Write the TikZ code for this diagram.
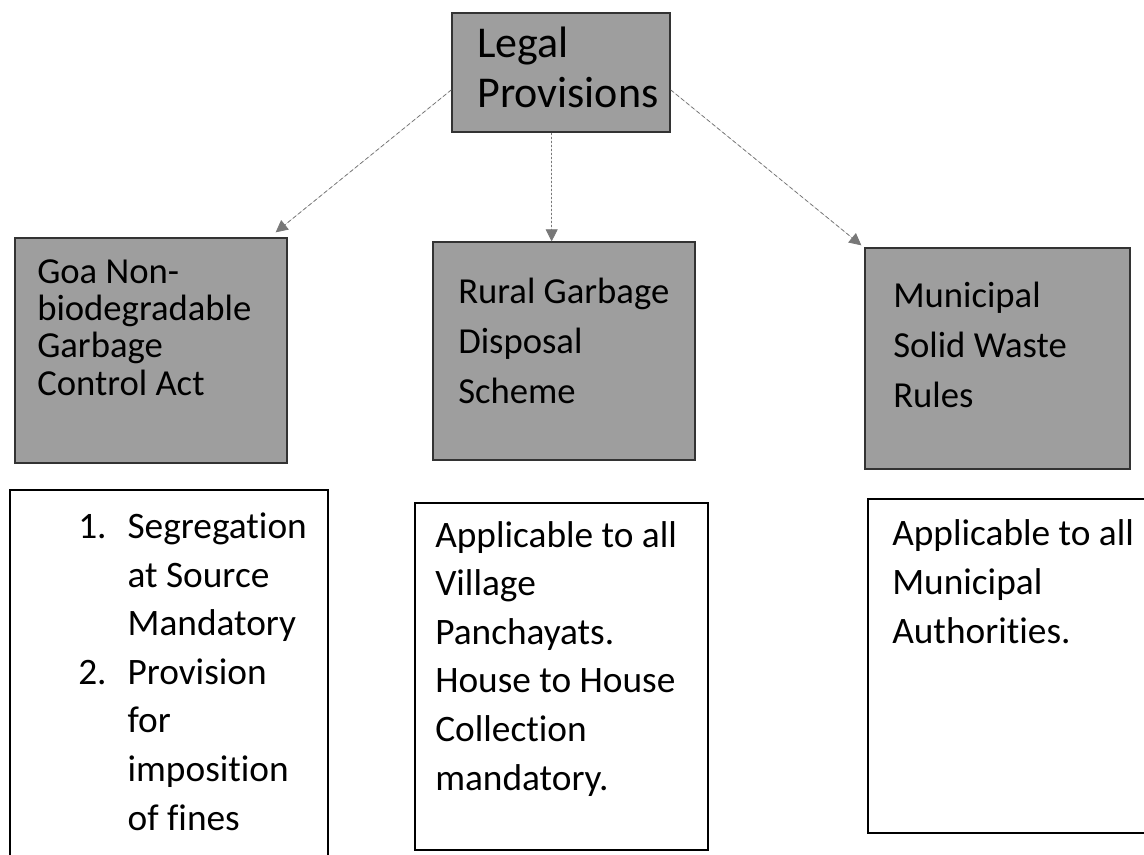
\documentclass[tikz,border=0pt]{standalone}
\usepackage{fontspec}
\setmainfont{Carlito}[Ligatures=NoCommon]
\usepackage{tikz}
\usetikzlibrary{arrows.meta,fit}
\definecolor{boxgray}{RGB}{158,158,158}
\definecolor{linegray}{RGB}{120,120,120}
\newcommand{\headfont}{\fontsize{33}{37}\selectfont}
\newcommand{\grayfont}{\fontsize{27.5}{28}\selectfont}
\newcommand{\grayloosefont}{\fontsize{27.5}{37.5}\selectfont}
\newcommand{\whitefont}{\fontsize{28}{36.4}\selectfont}
\newcommand{\itemnum}[1]{\makebox[37pt][l]{#1}}
\tikzset{
  graybox/.style={draw=black!80, line width=1pt, fill=boxgray, inner sep=0pt},
  whitebox/.style={draw=black, line width=1pt, inner sep=0pt},
  boxtext/.style={anchor=base west, inner sep=0pt, align=left},
  link/.style={draw=linegray, line width=0.6pt, densely dashed,
    -{Triangle[width=9pt,length=9pt]}, fill=linegray}
}
\begin{document}
\begin{tikzpicture}[x=0.75pt,y=-0.75pt]
\useasboundingbox (0,0) rectangle (1144,854);
% headings (text placed at the baseline of its last line)
\node[graybox, fit={(452,13) (670,132)}] (legal) {};
\node[graybox, fit={(15,238) (287,463)}] (goa) {};
\node[graybox, fit={(433,242) (695,460)}] (rural) {};
\node[graybox, fit={(865,248) (1130,469)}] (msw) {};
\node[boxtext, font=\headfont] (legaltext) at (477,107) {Legal\\Provisions};
\node[boxtext, font=\grayfont] (goatext) at (37,395) {Goa Non-\\biodegradable\\Garbage\\Control Act};
\node[boxtext, font=\grayloosefont] (ruraltext) at (458,403) {Rural Garbage\\Disposal\\Scheme};
\node[boxtext, font=\grayloosefont] (mswtext) at (893,407) {Municipal\\Solid Waste\\Rules};
% details
\node[whitebox, fit={(10,490) (328,880)}] (goanote) {};
\node[whitebox, fit={(415,503) (708,850)}] (ruralnote) {};
\node[whitebox, fit={(868,499) (1160,833)}] (mswnote) {};
\node[boxtext, font=\whitefont] (goanotetext) at (78,830) {\itemnum{1.}Segregation\\\hspace*{37pt}at Source\\\hspace*{37pt}Mandatory\\\itemnum{2.}Provision\\\hspace*{37pt}for\\\hspace*{37pt}imposition\\\hspace*{37pt}of fines};
\node[boxtext, font=\whitefont] (ruralnotetext) at (435,790) {Applicable to all\\Village\\Panchayats.\\House to House\\Collection\\mandatory.};
\node[boxtext, font=\whitefont] (mswnotetext) at (892,643) {Applicable to all\\Municipal\\Authorities.};
% arrows
\draw[link] (legal.189) -- ([shift={(-12,-5)}]goa.north east);
\draw[link, dash pattern=on 1.5pt off 1.5pt] ([xshift=-7pt]legal.south) -- ([xshift=-7pt]legal.south |- rural.north);
\draw[link] (legal.351) -- ([shift={(-3,-2)}]msw.north west);
\end{tikzpicture}
\end{document}
